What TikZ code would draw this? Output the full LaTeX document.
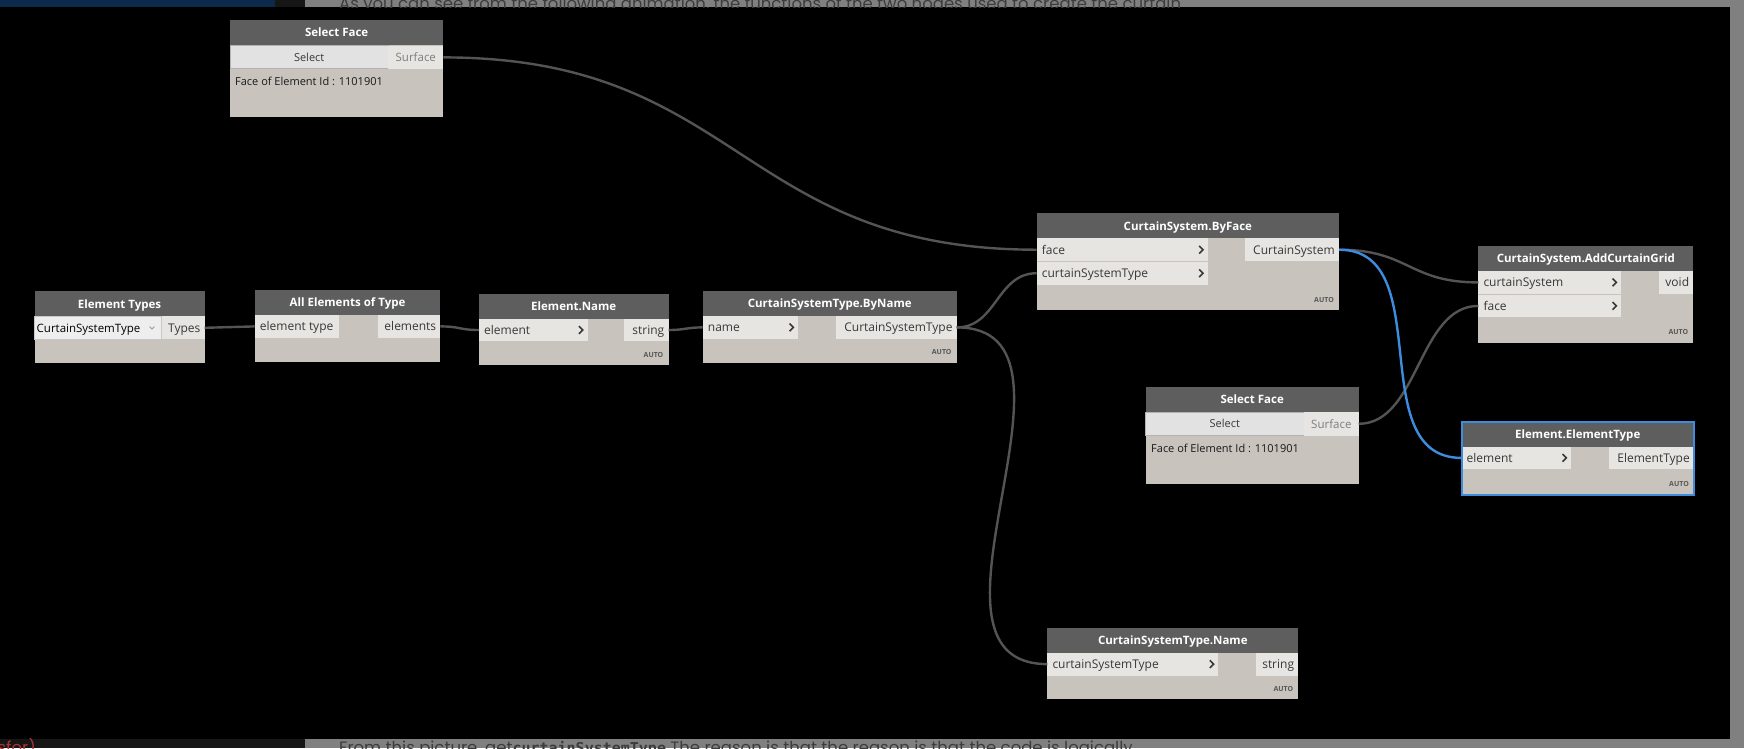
\documentclass[tikz,border=0pt]{standalone}
\usepackage{fontspec}
\setmainfont{Open Sans}
\newfontfamily\blogfont{Poppins}
\newfontfamily\blogmono{DejaVu Sans Mono}
\usetikzlibrary{calc}

\definecolor{hdrcol}{RGB}{94,94,94}
\definecolor{bodycol}{RGB}{200,196,189}
\definecolor{cellcol}{RGB}{231,229,225}
\definecolor{btncol}{RGB}{226,226,226}
\definecolor{dropcol}{RGB}{238,238,238}
\definecolor{wirecol}{RGB}{84,84,84}
\definecolor{selcol}{RGB}{62,140,222}
\definecolor{txtcol}{RGB}{56,56,56}
\definecolor{mutedtxt}{RGB}{125,125,125}
\definecolor{pagegray}{RGB}{128,128,128}
\definecolor{navy}{RGB}{12,42,76}
\definecolor{darkstrip}{RGB}{22,22,22}
\definecolor{blogtxt}{RGB}{60,60,60}
\definecolor{blogred}{RGB}{170,52,52}

\tikzset{
  bodybox/.style={fill=bodycol, draw=none, inner sep=0pt, outer sep=0pt},
  hdr/.style={fill=hdrcol, text=white, font=\bfseries\fontsize{11.5}{13}\selectfont,
    minimum height=25pt, inner sep=0pt, outer sep=0pt, text height=8.4pt, text depth=0pt},
  cell/.style={fill=cellcol, minimum height=22.8pt, inner sep=0pt, outer sep=0pt},
  btn/.style={fill=btncol, draw=black!30, line width=0.8pt, minimum height=23.2pt,
    inner sep=0pt, outer sep=0pt, text=txtcol, font=\fontsize{11}{13}\selectfont,
    text height=8pt, text depth=0pt},
  drop/.style={fill=dropcol, draw=black!22, line width=0.6pt, minimum height=22.8pt,
    inner sep=0pt, outer sep=0pt},
  ptxt/.style={text=txtcol, font=\fontsize{12}{14}\selectfont, inner sep=0pt},
  infotxt/.style={text=black!90, font=\fontsize{11}{13}\selectfont, inner sep=0pt},
  chev/.style={draw=txtcol, line width=1.6pt, line join=miter},
  autotag/.style={text=txtcol!85, font=\bfseries\fontsize{7}{8}\selectfont,
    inner sep=0pt, anchor=east},
  wire/.style={draw=wirecol, line width=2.4pt},
  selwire/.style={draw=selcol, line width=2.4pt},
  blogtext/.style={text=blogtxt, font=\blogfont\fontsize{16.5}{18}\selectfont, inner sep=0pt},
}

% node frame: name, x-left, x-right, y-top, y-bottom, title
\newcommand\dynbox[6]{%
  \node[bodybox, minimum width={#3-#2}, minimum height={#5-#4}, anchor=north west]
    (#1) at (#2,#4) {};
  \node[hdr, minimum width={#3-#2}, anchor=north west] (#1-h) at (#2,#4) {#6};
}
% input port: name, x-left, x-right, y-top, label
\newcommand\inport[5]{%
  \node[cell, minimum width={#3-#2}, anchor=north west] (#1) at (#2,#4) {};
  \node[ptxt, anchor=base west] (#1-t) at ([xshift=5pt,yshift=-4.4pt]#1.west) {#5};
}
% output port: name, x-left, x-right, y-top, label
\newcommand\outport[5]{%
  \node[cell, minimum width={#3-#2}, anchor=north west] (#1) at (#2,#4) {};
  \node[ptxt, anchor=base east] (#1-t) at ([xshift=-4pt,yshift=-4.4pt]#1.east) {#5};
}
% chevron at the right end of an input port
\newcommand\portchev[1]{%
  \draw[chev] ([xshift=-6.5pt]#1.east) ++(-2,-3.8) -- ++(3.8,3.8) -- ++(-3.8,3.8);
}
% AUTO lacing tag in the node footer
\newcommand\autotag[1]{%
  \node[autotag] (#1-auto) at ([xshift=-5pt,yshift=10.5pt]#1.south east) {AUTO};
}

\begin{document}
\begin{tikzpicture}[x=1pt,y=-1pt]
\useasboundingbox (0,0) rectangle (1744,748);

% canvas and surrounding page strips
\fill[black] (0,0) rectangle (1744,748);
\fill[navy] (0,0) rectangle (275,7);
\fill[darkstrip] (275,0) rectangle (305,7);
\fill[pagegray] (305,0) rectangle (1744,7);
\fill[pagegray] (1730,0) rectangle (1744,748);
\fill[darkstrip] (0,738.5) rectangle (305,748);
\fill[pagegray] (305,738.5) rectangle (1730,748);

\begin{scope}
  \clip (305,0) rectangle (1730,7);
  \node[blogtext, anchor=base west] (introline) at (339,9)
    {As you can see from the following animation, the functions of the two nodes used to create the curtain};
\end{scope}
\begin{scope}
  \clip (305,738.5) rectangle (1730,748);
  \node[blogtext, anchor=base west] (outroline) at (339,753.5)
    {From this picture, get{\blogmono\bfseries\fontsize{15}{18}\selectfont curtainSystemType} The reason is that the reason is that the code is logically};
\end{scope}
\begin{scope}
  \clip (0,738.5) rectangle (305,748);
  \node[blogtext, text=blogred, anchor=base east] (sidenote) at (36,753.5) {sfor)};
\end{scope}

% Select Face (upper)
\dynbox{selA}{230}{443.3}{20}{116.7}{Select Face}
\node[btn, minimum width=158.3, anchor=north west] (selA-btn) at (230,45.6) {Select};
\node[cell, minimum width=55, minimum height=23.6pt, anchor=north west] (selA-out) at (388.3,45.6) {};
\node[ptxt, text=mutedtxt, font=\fontsize{11.5}{13}\selectfont, anchor=base] (selA-out-t) at ([yshift=-4.2pt]selA-out.center) {Surface};
\node[infotxt, anchor=base west] (selA-info) at (235,85.5) {Face of Element Id : 1101901};

% Element Types
\dynbox{et}{34.5}{204.6}{291.4}{362.6}{Element Types}
\node[drop, minimum width=126.5, anchor=north west] (et-drop) at (34.5,316.4) {};
\node[ptxt, text=black, font=\fontsize{11.5}{13}\selectfont, anchor=base west] (et-drop-t) at ([xshift=2pt,yshift=-4.2pt]et-drop.west) {CurtainSystemType};
\draw[draw=black!40, line width=0.8pt] (149.6,326.6) -- (152,329) -- (154.4,326.6);
\outport{et-out}{162}{204.6}{316.4}{Types}

% All Elements of Type
\dynbox{ae}{254.7}{440.4}{290}{361.5}{All Elements of Type}
\inport{ae-in}{254.7}{339}{315}{element type}
\outport{ae-out}{377.5}{440.4}{315}{elements}

% Element.Name
\dynbox{en}{479}{668.5}{293.6}{365}{Element.Name}
\inport{en-in}{479}{587.5}{318.6}{element}
\portchev{en-in}
\outport{en-out}{624}{668.5}{318.6}{string}
\autotag{en}

% CurtainSystemType.ByName
\dynbox{bn}{702.7}{956.7}{291}{362.7}{CurtainSystemType.ByName}
\inport{bn-in}{702.7}{798}{316}{name}
\portchev{bn-in}
\outport{bn-out}{835.7}{956.7}{316}{CurtainSystemType}
\autotag{bn}

% CurtainSystem.ByFace
\dynbox{bf}{1036.7}{1339}{213.3}{310}{CurtainSystem.ByFace}
\inport{bf-in1}{1036.7}{1207.7}{238.3}{face}
\portchev{bf-in1}
\inport{bf-in2}{1036.7}{1207.7}{261.8}{curtainSystemType}
\portchev{bf-in2}
\outport{bf-out}{1245}{1339}{238.3}{CurtainSystem}
\autotag{bf}

% CurtainSystem.AddCurtainGrid
\dynbox{ag}{1478.3}{1693.3}{246}{342.7}{CurtainSystem.AddCurtainGrid}
\inport{ag-in1}{1478.3}{1621}{271}{curtainSystem}
\portchev{ag-in1}
\inport{ag-in2}{1478.3}{1621}{294.5}{face}
\portchev{ag-in2}
\outport{ag-out}{1659}{1693.3}{271}{void}
\autotag{ag}

% Select Face (lower)
\dynbox{selB}{1145.6}{1358.7}{387}{484}{Select Face}
\node[btn, minimum width=158.4, anchor=north west] (selB-btn) at (1145.6,412) {Select};
\node[cell, minimum width=54.7, minimum height=23.6pt, anchor=north west] (selB-out) at (1304,412) {};
\node[ptxt, text=mutedtxt, font=\fontsize{11.5}{13}\selectfont, anchor=base] (selB-out-t) at ([yshift=-4.2pt]selB-out.center) {Surface};
\node[infotxt, anchor=base west] (selB-info) at (1151,452) {Face of Element Id : 1101901};

% Element.ElementType (selected)
\dynbox{ety}{1461.5}{1694}{421.5}{494.5}{Element.ElementType}
\inport{ety-in}{1461.5}{1571}{446.5}{element}
\portchev{ety-in}
\outport{ety-out}{1608.5}{1694}{446.5}{ElementType}
\autotag{ety}
\draw[selcol, line width=2pt] (ety.north west) rectangle (ety.south east);

% CurtainSystemType.Name
\dynbox{cn}{1047.3}{1298.3}{627.7}{699.3}{CurtainSystemType.Name}
\inport{cn-in}{1047.3}{1218.3}{652.7}{curtainSystemType}
\portchev{cn-in}
\outport{cn-out}{1255.7}{1298.3}{652.7}{string}
\autotag{cn}

% wires
\draw[wire] (selA-out.east) .. controls +(297,0) and +(-297,0) .. (bf-in1.west);
\draw[wire] (et-out.east) .. controls +(25,0) and +(-25,0) .. (ae-in.west);
\draw[wire] (ae-out.east) .. controls +(20,0) and +(-20,0) .. (en-in.west);
\draw[wire] (en-out.east) .. controls +(17,0) and +(-17,0) .. (bn-in.west);
\draw[wire] (bn-out.east) .. controls +(40,0) and +(-40,0) .. (bf-in2.west);
\draw[wire] (bn-out.east) .. controls +(150,0) and +(-150,0) .. (cn-in.west);
\draw[wire] (bf-out.east) .. controls +(70,0) and +(-70,0) .. (ag-in1.west);
\draw[wire] (selB-out.east) .. controls +(60,0) and +(-60,0) .. (ag-in2.west);
\draw[selwire] (bf-out.east) .. controls +(100,0) and +(-100,0) .. (ety-in.west);

\end{tikzpicture}
\end{document}
